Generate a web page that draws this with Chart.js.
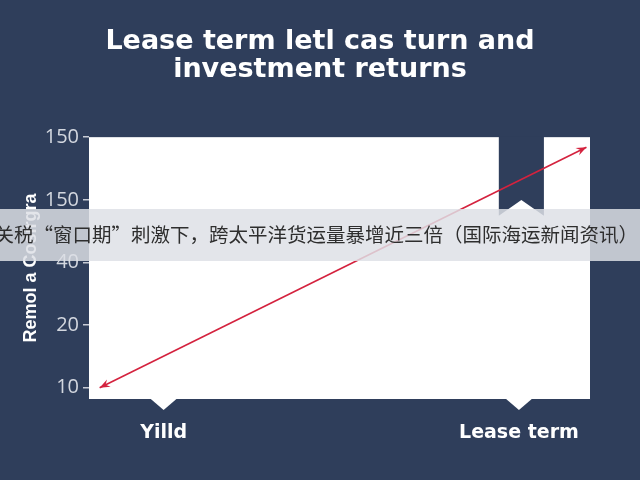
<!DOCTYPE html>
<html>
<head>
<meta charset="utf-8">
<script src="https://cdn.jsdelivr.net/npm/chart.js@4"></script>
<style>
html,body{margin:0;padding:0;background:#2f3e5b;}
#wrap{position:relative;width:640px;height:480px;overflow:hidden;background:#2f3e5b;}
#banner{position:absolute;left:0;top:209px;width:640px;height:52px;background:rgba(222,224,230,0.84);}
#banner span{position:absolute;right:2px;top:13px;white-space:nowrap;font-family:"Noto Sans CJK SC",sans-serif;font-size:19.5px;color:#2e2e2e;line-height:24px;}
</style>
</head>
<body>
<div id="wrap">
<canvas id="c" width="640" height="480"></canvas>
<div id="banner"><span id="bt"></span></div>
</div>
<script>
const titleLines = ["Lease term letl cas turn and", "investment returns"];
const xLabels = ["Yilld", "Lease term"];
const yLabels = ["10", "20", "40", "150", "150"];
const yTitle = "Remol a Cosirgra";
const lineX = [-0.18, 1.19];
const lineY = [0, 3.84];
const bannerText = "关税“窗口期”刺激下，跨太平洋货运量暴增近三倍（国际海运新闻资讯）";
document.getElementById("bt").textContent = bannerText;

const navy = "#2f3e5b";

const panelPlugin = {
  id: "panel",
  beforeDatasetsDraw(chart) {
    const {ctx, chartArea: a, scales} = chart;
    ctx.save();
    ctx.fillStyle = "#ffffff";
    ctx.fillRect(a.left, a.top, a.right - a.left, a.bottom - a.top);
    xLabels.forEach((_, i) => {
      const cx = scales.x.getPixelForValue(i);
      ctx.beginPath();
      ctx.moveTo(cx - 14, a.bottom - 1);
      ctx.lineTo(cx + 14, a.bottom - 1);
      ctx.lineTo(cx, a.bottom + 11);
      ctx.closePath();
      ctx.fill();
    });
    const bx0 = a.left + (a.right - a.left) * 0.818;
    const bx1 = a.left + (a.right - a.left) * 0.908;
    const h = (a.bottom - a.top);
    ctx.fillStyle = navy;
    ctx.beginPath();
    ctx.moveTo(bx0, a.top - 1);
    ctx.lineTo(bx1, a.top - 1);
    ctx.lineTo(bx1, a.top + h * 0.30);
    ctx.lineTo((bx0 + bx1) / 2, a.top + h * 0.24);
    ctx.lineTo(bx0, a.top + h * 0.30);
    ctx.closePath();
    ctx.fill();
    ctx.restore();
  }
};

function arrowHead(ctx, fx, fy, tx, ty, color) {
  const ang = Math.atan2(ty - fy, tx - fx);
  const L = 11, W = 0.38;
  ctx.beginPath();
  ctx.moveTo(tx, ty);
  ctx.lineTo(tx - L * Math.cos(ang - W), ty - L * Math.sin(ang - W));
  ctx.lineTo(tx - L * 0.6 * Math.cos(ang), ty - L * 0.6 * Math.sin(ang));
  ctx.lineTo(tx - L * Math.cos(ang + W), ty - L * Math.sin(ang + W));
  ctx.closePath();
  ctx.fillStyle = color;
  ctx.fill();
}

const arrowPlugin = {
  id: "arrows",
  afterDatasetsDraw(chart) {
    const meta = chart.getDatasetMeta(0);
    const p0 = meta.data[0], p1 = meta.data[meta.data.length - 1];
    const ctx = chart.ctx;
    ctx.save();
    arrowHead(ctx, p1.x, p1.y, p0.x, p0.y, "#d4223e");
    arrowHead(ctx, p0.x, p0.y, p1.x, p1.y, "#d4223e");
    ctx.restore();
  }
};

new Chart(document.getElementById("c"), {
  type: "scatter",
  data: {
    datasets: [{
      data: lineX.map((x, i) => ({x, y: lineY[i]})),
      showLine: true,
      borderColor: "#d4223e",
      borderWidth: 1.6,
      pointRadius: 0
    }]
  },
  options: {
    responsive: false,
    animation: false,
    layout: {padding: 0},
    plugins: {
      legend: {display: false},
      tooltip: {enabled: false},
      title: {
        display: true,
        text: titleLines,
        color: "#ffffff",
        font: {family: "DejaVu Sans", size: 27, weight: "bold", lineHeight: 1.04},
        padding: {top: 28, bottom: 53}
      }
    },
    scales: {
      x: {
        type: "linear",
        min: -0.21,
        max: 1.2,
        afterBuildTicks(s) { s.ticks = xLabels.map((_, i) => ({value: i})); },
        afterFit(s) { s.height = 81; },
        grid: {display: false},
        border: {display: false},
        ticks: {
          color: "#ffffff",
          font: {family: "DejaVu Sans", size: 19, weight: "bold"},
          padding: 15,
          callback: (v) => xLabels[v]
        }
      },
      y: {
        type: "linear",
        min: -0.18,
        max: 4,
        afterBuildTicks(s) { s.ticks = yLabels.map((_, i) => ({value: i})); },
        afterFit(s) { s.width = 89; },
        grid: {drawOnChartArea: false, color: "#c8ccd6", tickLength: 6, lineWidth: 1.5},
        border: {display: false},
        title: {
          display: true,
          text: yTitle,
          color: "#ffffff",
          font: {family: "Liberation Sans", size: 18, weight: "bold"},
          padding: {top: 20, bottom: 4}
        },
        ticks: {
          color: "#d3d7df",
          font: {family: "Open Sans", size: 20},
          padding: 4,
          callback: (v) => yLabels[v]
        }
      },
      yRight: {
        type: "linear",
        position: "right",
        min: -0.18,
        max: 4,
        afterFit(s) { s.width = 50; },
        grid: {display: false},
        border: {display: false},
        ticks: {display: false}
      }
    }
  },
  plugins: [panelPlugin, arrowPlugin]
});
</script>
</body>
</html>
